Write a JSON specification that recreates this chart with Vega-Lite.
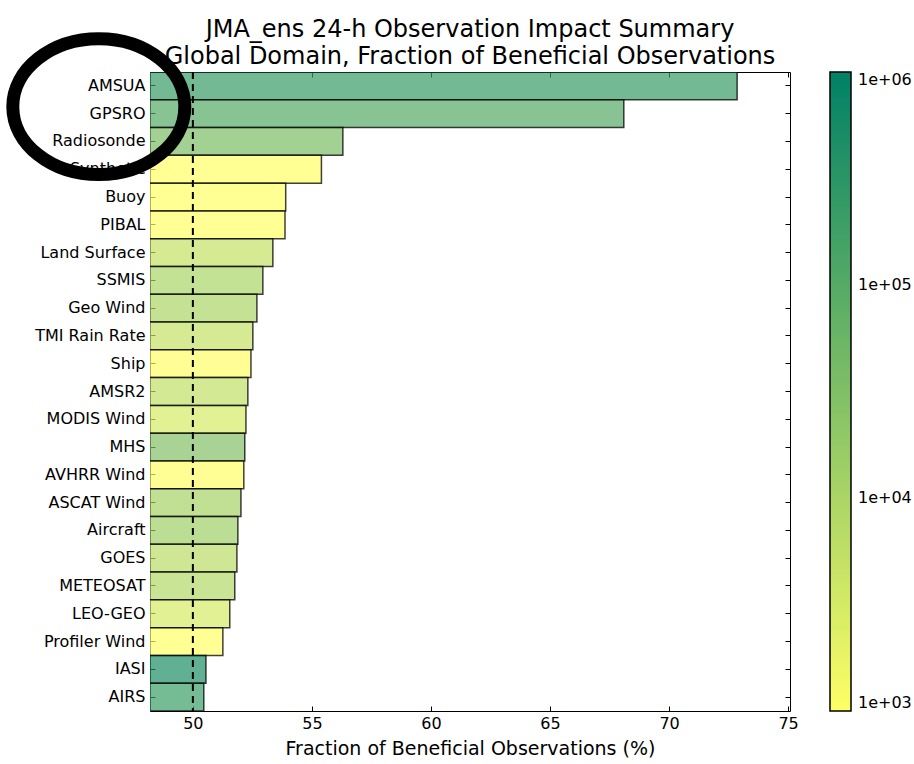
{
  "$schema": "https://vega.github.io/schema/vega-lite/v6.json",
  "autosize": {"type": "none"},
  "width": 640,
  "height": 639,
  "padding": {"left": 150, "top": 72, "right": 124, "bottom": 53},
  "background": "white",
  "config": {
    "font": "DejaVu Sans",
    "view": {"stroke": "black", "strokeWidth": 1},
    "axis": {"domain": false, "grid": false, "labelColor": "black", "tickColor": "black", "labelFont": "DejaVu Sans", "titleFont": "DejaVu Sans", "titleFontWeight": "normal", "titleColor": "black", "zindex": 1}
  },
  "title": {
    "text": ["JMA_ens 24-h Observation Impact Summary", "Global Domain, Fraction of Beneficial Observations"],
    "fontSize": 24,
    "fontWeight": "normal",
    "font": "DejaVu Sans",
    "color": "black",
    "anchor": "middle",
    "lineHeight": 27,
    "offset": -56
  },
  "layer": [
    {
      "data": {"values": [
        {"name": "AMSUA", "frac": 72.86, "count": 230000},
        {"name": "GPSRO", "frac": 68.1, "count": 100000},
        {"name": "Radiosonde", "frac": 56.3, "count": 35000},
        {"name": "Synthetic", "frac": 55.4, "count": 1000},
        {"name": "Buoy", "frac": 53.9, "count": 1000},
        {"name": "PIBAL", "frac": 53.87, "count": 1000},
        {"name": "Land Surface", "frac": 53.36, "count": 5000},
        {"name": "SSMIS", "frac": 52.94, "count": 10000},
        {"name": "Geo Wind", "frac": 52.69, "count": 9500},
        {"name": "TMI Rain Rate", "frac": 52.52, "count": 5000},
        {"name": "Ship", "frac": 52.44, "count": 1050},
        {"name": "AMSR2", "frac": 52.31, "count": 5500},
        {"name": "MODIS Wind", "frac": 52.23, "count": 3000},
        {"name": "MHS", "frac": 52.18, "count": 29000},
        {"name": "AVHRR Wind", "frac": 52.14, "count": 1050},
        {"name": "ASCAT Wind", "frac": 52.02, "count": 11000},
        {"name": "Aircraft", "frac": 51.89, "count": 13000},
        {"name": "GOES", "frac": 51.85, "count": 6500},
        {"name": "METEOSAT", "frac": 51.76, "count": 8000},
        {"name": "LEO-GEO", "frac": 51.55, "count": 3000},
        {"name": "Profiler Wind", "frac": 51.26, "count": 1000},
        {"name": "IASI", "frac": 50.55, "count": 440000},
        {"name": "AIRS", "frac": 50.46, "count": 200000}
      ]},
      "mark": {"type": "bar", "clip": true, "fillOpacity": 0.7, "strokeOpacity": 0.75, "stroke": "black", "strokeWidth": 1.5},
      "encoding": {
        "y": {
          "field": "name", "type": "nominal", "sort": null,
          "scale": {"paddingInner": 0, "paddingOuter": 0},
          "axis": {"title": null, "labelFontSize": 16, "labelPadding": 10, "tickSize": -5, "labelLimit": 200}
        },
        "x": {
          "field": "frac", "type": "quantitative",
          "scale": {"domain": [48.2, 75.08], "zero": false, "nice": false},
          "axis": {"title": "Fraction of Beneficial Observations (%)", "titleFontSize": 19, "titlePadding": 8, "labelFontSize": 16, "values": [50, 55, 60, 65, 70, 75], "tickSize": -5, "labelPadding": 9}
        },
        "color": {
          "field": "count", "type": "quantitative",
          "scale": {"type": "log", "domain": [1000, 1000000], "range": ["#ffff66", "#008066"], "interpolate": "rgb", "clamp": true},
          "legend": {
            "orient": "none", "legendX": 680, "legendY": 0, "direction": "vertical",
            "gradientLength": 639, "gradientThickness": 21, "title": null,
            "values": [1000, 10000, 100000, 1000000],
            "labelExpr": "'1e+0' + round(log(datum.value)/LN10)",
            "gradientStrokeColor": "black", "gradientStrokeWidth": 1.5,
            "labelFontSize": 16, "labelOffset": 7, "labelColor": "black", "labelFont": "DejaVu Sans", "labelOverlap": false,
            "labelBaseline": "middle"
          }
        }
      }
    },
    {
      "data": {"values": [{"v": 50}]},
      "mark": {"type": "rule", "color": "black", "strokeWidth": 2, "strokeDash": [7, 5]},
      "encoding": {"x": {"field": "v", "type": "quantitative", "axis": {"orient": "top", "labels": false, "title": null, "tickSize": -5, "values": [50, 55, 60, 65, 70, 75]}}}
    },
    {
      "data": {"values": [{"name": "GPSRO", "frac": 46.05}]},
      "mark": {
        "type": "point", "filled": false, "stroke": "black", "strokeWidth": 13, "opacity": 1, "size": 29584, "yOffset": -7,
        "shape": "M -1 0 C -1 -0.436 -0.5523 -0.79 0 -0.79 C 0.5523 -0.79 1 -0.436 1 0 C 1 0.436 0.5523 0.79 0 0.79 C -0.5523 0.79 -1 0.436 -1 0 Z"
      },
      "encoding": {
        "x": {"field": "frac", "type": "quantitative", "axis": null},
        "y": {"field": "name", "type": "nominal", "sort": null, "axis": {"orient": "right", "labels": false, "title": null, "tickSize": -5}}
      }
    }
  ],
  "resolve": {"axis": {"x": "independent", "y": "independent"}}
}
